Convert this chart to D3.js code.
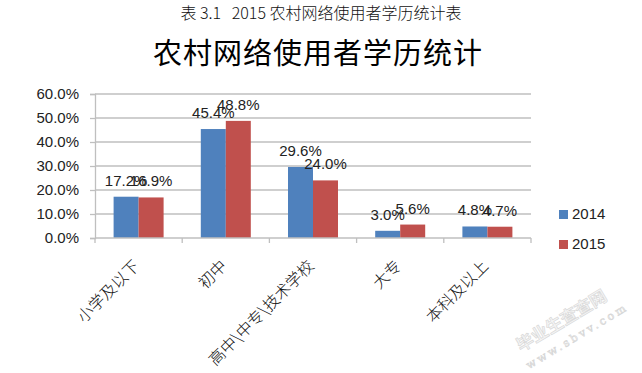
<!DOCTYPE html>
<html>
<head>
<meta charset="utf-8">
<script src="https://cdn.jsdelivr.net/npm/d3@7"></script>
<style>
  body { margin: 0; background: #fff; }
  svg { display: block; }
</style>
</head>
<body>
<div id="chart"></div>
<script>
// data
var categories = ["小学及以下", "初中", "高中\\中专\\技术学校", "大专", "本科及以上"];
var seriesNames = ["2014", "2015"];
var values2014 = [17.2, 45.4, 29.6, 3.0, 4.8];
var values2015 = [16.9, 48.8, 24.0, 5.6, 4.7];
var yTicks = [0, 10, 20, 30, 40, 50, 60];
var colors = ["#4f81bd", "#c0504d"];

var W = 642, H = 373;
var margin = {top: 94, right: 111, bottom: 135, left: 95},
    width = W - margin.left - margin.right,
    height = H - margin.top - margin.bottom;

var rows = categories.map(function(c, i) {
  return {cat: c, vals: [values2014[i], values2015[i]]};
});

var svg = d3.select("#chart").append("svg")
    .attr("width", W)
    .attr("height", H);

// header
svg.append("text")
    .attr("x", 321).attr("y", 19)
    .attr("text-anchor", "middle")
    .attr("xml:space", "preserve")
    .style("white-space", "pre")
    .style("font-family", "'Noto Sans CJK SC', sans-serif")
    .style("font-size", "16px")
    .style("font-weight", "300")
    .style("fill", "#111")
    .text("表 3.1   2015 农村网络使用者学历统计表");

svg.append("text")
    .attr("x", 318).attr("y", 64)
    .attr("text-anchor", "middle")
    .style("font-family", "'Noto Sans CJK SC', sans-serif")
    .style("font-size", "29px")
    .style("letter-spacing", "1px")
    .style("fill", "#000")
    .text("农村网络使用者学历统计");

var g = svg.append("g")
    .attr("transform", "translate(" + margin.left + "," + margin.top + ")");

var x0 = d3.scaleBand().domain(categories).range([0, width]).paddingInner(0).paddingOuter(0);
var x1 = d3.scaleBand().domain(seriesNames).range([0, 50]);
var y = d3.scaleLinear().domain([0, 60]).range([height, 0]);

// gridlines
g.append("g")
    .attr("class", "grid")
  .selectAll("line")
  .data(yTicks.slice(1))
  .enter().append("line")
    .attr("x1", 0).attr("x2", width)
    .attr("y1", function(d) { return y(d); })
    .attr("y2", function(d) { return y(d); })
    .attr("stroke", "#bfbfbf")
    .attr("stroke-width", 1.3);

// y axis
var yAxis = g.append("g")
    .call(d3.axisLeft(y).tickValues(yTicks).tickSize(5).tickPadding(11)
      .tickFormat(function(d) { return d.toFixed(1) + "%"; }));
yAxis.selectAll("path, line").attr("stroke", "#bfbfbf").attr("stroke-width", 1.3);
yAxis.selectAll("text")
    .style("font-family", "'Liberation Sans', Arial, sans-serif")
    .style("font-size", "15px")
    .style("fill", "#222");

// bars
var groups = g.selectAll(".grp")
    .data(rows)
  .enter().append("g")
    .attr("class", "grp")
    .attr("transform", function(d) {
      return "translate(" + (x0(d.cat) + x0.bandwidth() / 2 - 25) + ",0)";
    });

groups.selectAll("rect")
    .data(function(d) { return d.vals; })
  .enter().append("rect")
    .attr("x", function(d, i) { return x1(seriesNames[i]); })
    .attr("width", x1.bandwidth())
    .attr("y", function(d) { return y(d); })
    .attr("height", function(d) { return height - y(d); })
    .attr("fill", function(d, i) { return colors[i]; });

groups.selectAll(".lbl")
    .data(function(d) { return d.vals; })
  .enter().append("text")
    .attr("class", "lbl")
    .attr("x", function(d, i) { return x1(seriesNames[i]) + x1.bandwidth() / 2; })
    .attr("y", function(d) { return y(d) - 11; })
    .attr("text-anchor", "middle")
    .style("font-family", "'Liberation Sans', Arial, sans-serif")
    .style("font-size", "15px")
    .style("fill", "#222")
    .text(function(d) { return d.toFixed(1) + "%"; });

// x axis
var xAxis = g.append("g")
    .attr("transform", "translate(0," + height + ")");
xAxis.append("line")
    .attr("x1", 0).attr("x2", width)
    .attr("stroke", "#bfbfbf").attr("stroke-width", 1.3);
xAxis.selectAll(".tk")
    .data(d3.range(categories.length + 1))
  .enter().append("line")
    .attr("x1", function(d) { return d * x0.step(); })
    .attr("x2", function(d) { return d * x0.step(); })
    .attr("y1", 0).attr("y2", 5)
    .attr("stroke", "#bfbfbf").attr("stroke-width", 1.3);

xAxis.selectAll(".cat")
    .data(categories)
  .enter().append("text")
    .attr("class", "cat")
    .attr("transform", function(d) {
      return "translate(" + (x0(d) + x0.bandwidth() / 2 + 2) + ",29) rotate(-45)";
    })
    .attr("text-anchor", "end")
    .style("font-family", "'Noto Sans CJK SC', sans-serif")
    .style("font-size", "16px")
    .style("font-weight", "300")
    .style("fill", "#111")
    .text(function(d) { return d; });

// legend
var legend = svg.selectAll(".leg")
    .data(seriesNames)
  .enter().append("g")
    .attr("class", "leg")
    .attr("transform", function(d, i) { return "translate(559," + (210 + i * 30) + ")"; });
legend.append("rect")
    .attr("width", 9).attr("height", 9)
    .attr("fill", function(d, i) { return colors[i]; });
legend.append("text")
    .attr("x", 13).attr("y", 9)
    .style("font-family", "'Liberation Sans', Arial, sans-serif")
    .style("font-size", "15px")
    .style("fill", "#222")
    .text(function(d) { return d; });

// faint watermark
var wm = svg.append("g")
    .attr("transform", "translate(521,352) rotate(-31)")
    .style("fill", "#f4f4f4")
    .style("stroke", "#d6d6d6")
    .style("stroke-width", "0.6px");
wm.append("text")
    .style("font-family", "'Noto Sans CJK SC', sans-serif")
    .style("font-size", "17px")
    .style("font-weight", "bold")
    .text("毕业生查查网");
wm.append("text")
    .attr("x", -2).attr("y", 19)
    .style("font-family", "'DejaVu Serif', serif")
    .style("font-size", "11px")
    .style("letter-spacing", "3px")
    .text("www.sbvv.com");
</script>
</body>
</html>
